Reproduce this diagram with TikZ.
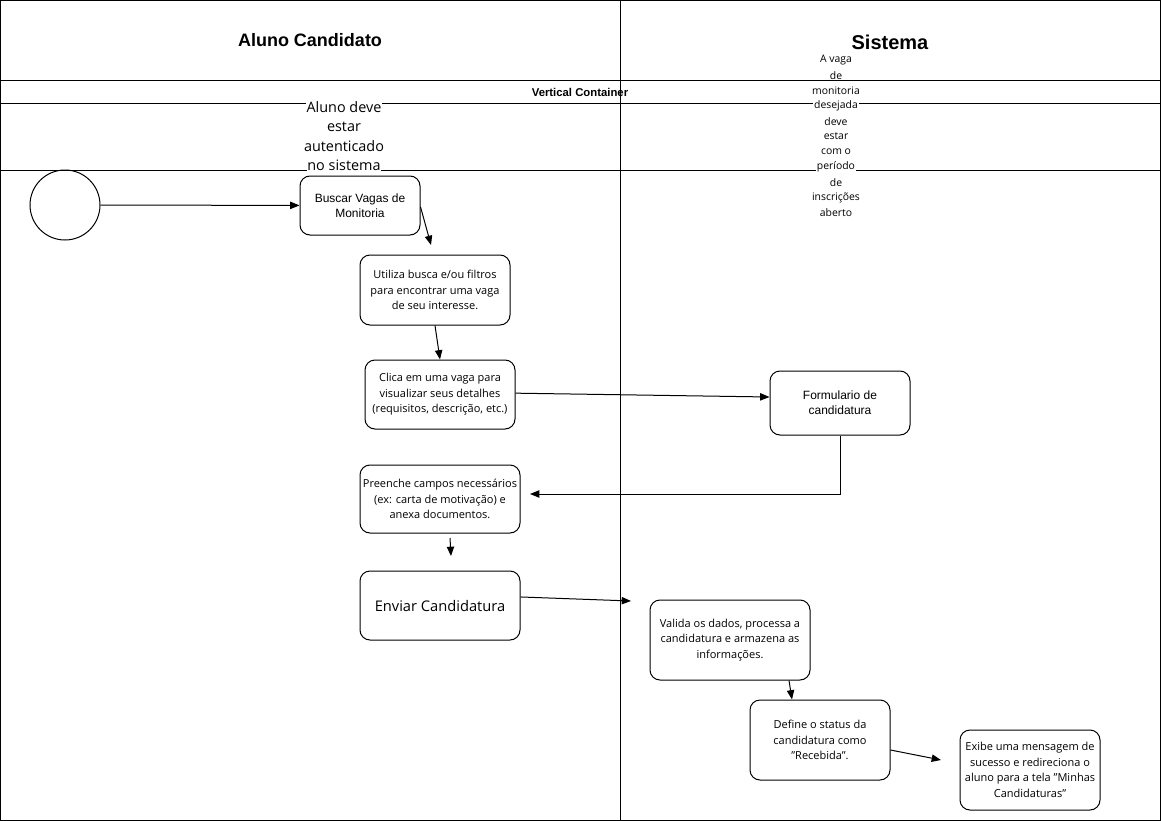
\documentclass[tikz,border=0pt]{standalone}
\usepackage{fontspec}
\setmainfont{Open Sans}
\newfontfamily\helv{Liberation Sans}
\usetikzlibrary{arrows.meta}
\newcommand{\qt}{\symbol{"22}}
\begin{document}
\begin{tikzpicture}[x=0.75pt,y=-0.75pt,
  px/.style 2 args={minimum width=#1*0.75pt,minimum height=#2*0.75pt},
  box/.style={draw, rounded corners=7.5pt, line width=0.75pt, align=center,
    inner sep=0pt, fill=white, font=\fontsize{8.25}{11.6}\selectfont},
  helvbox/.style={box, font=\helv\fontsize{9}{11.5}\selectfont},
  flow/.style={-{Triangle[length=7pt,width=5.5pt]}, line width=0.75pt},
  frame/.style={line width=0.75pt},
  note/.style={fill=white, inner sep=0.6pt},
  head/.style={font=\helv\bfseries}]
\useasboundingbox (0,0) rectangle (1161,821);

% swimlane frame
\draw[frame] (0.5,0.5) rectangle (1160.5,820.5);
\draw[frame] (620,0) -- (620,821);
\draw[frame] (0,80) -- (1161,80);
\draw[frame] (0,103) -- (1161,103);
\draw[frame] (0,170) -- (1161,170);

% lane titles
\node[head, font=\helv\bfseries\fontsize{13.5}{16}\selectfont] (laneA) at (310,40) {Aluno Candidato};
\node[head, font=\helv\bfseries\fontsize{15}{18}\selectfont] (laneB) at (890,42) {Sistema};
\node[head, font=\helv\bfseries\fontsize{8.5}{10}\selectfont] (container) at (580,92) {Vertical Container};

% preconditions
\foreach \t [count=\i] in {Aluno deve, estar, autenticado, no sistema}
  \node[note, font=\fontsize{10.8}{12}\selectfont] (preA\i) at (344,88+19.3*\i) {\t};
\foreach \t [count=\i] in {A vaga, de, monitoria, desejada, deve, estar, com o, período, de, inscrições, aberto}
  \node[note, font=\fontsize{7.8}{9}\selectfont] (preB\i) at (836,44.7+15.3*\i) {\t};

% activities
\node[draw, circle, line width=0.75pt, minimum size=52.5pt, inner sep=0pt] (start) at (65,205) {};
\node[helvbox, px={120}{59}] (buscar) at (360,205.5) {Buscar Vagas de\\Monitoria};
\node[box, px={150}{70}] (utiliza) at (435,290) {Utiliza busca e/ou filtros\\para encontrar uma vaga\\de seu interesse.};
\node[box, px={150}{69}] (clica) at (440,394.5) {Clica em uma vaga para\\visualizar seus detalhes\\(requisitos, descrição, etc.)};
\node[helvbox, px={140}{64}] (form) at (840,403) {Formulario de\\candidatura};
\node[box, px={160}{68}] (preenche) at (440,499) {Preenche campos necessários\\(ex: carta de motivação) e\\anexa documentos.};
\node[box, px={160}{69}, font=\fontsize{11}{13}\selectfont] (enviar) at (440,605.5) {Enviar Candidatura};
\node[box, px={160}{80}] (valida) at (730,640) {Valida os dados, processa a\\candidatura e armazena as\\informações.};
\node[box, px={140}{80}] (define) at (820,740) {Define o status da\\candidatura como\\\qt Recebida\qt .};
\node[box, px={140}{80}] (exibe) at (1030,770) {Exibe uma mensagem de\\sucesso e redireciona o\\aluno para a tela \qt Minhas\\Candidaturas\qt};

% free connector ends
\coordinate (e1) at (431,245);
\coordinate (e2) at (530,494);
\coordinate (p1) at (450,538);
\coordinate (e3) at (451,556);
\coordinate (e4) at (631,601);
\coordinate (e5) at (941,760);

% connectors
\draw[flow] (start) -- (buscar);
\draw[flow] ([yshift=-1pt]buscar.east) -- (e1);
\draw[flow] (utiliza.south) -- (clica.north);
\draw[flow] ([yshift=1pt]clica.east) -- ([yshift=4.5pt]form.west);
\draw[flow] (form.south) |- (e2);
\draw[flow] (p1) -- (e3);
\draw[flow] ([yshift=6.4pt]enviar.east) -- (e4);
\draw[flow] ([xshift=44.25pt]valida.south) -- ([xshift=-21pt]define.north);
\draw[flow] ([yshift=-7.5pt]define.east) -- (e5);
\end{tikzpicture}
\end{document}
